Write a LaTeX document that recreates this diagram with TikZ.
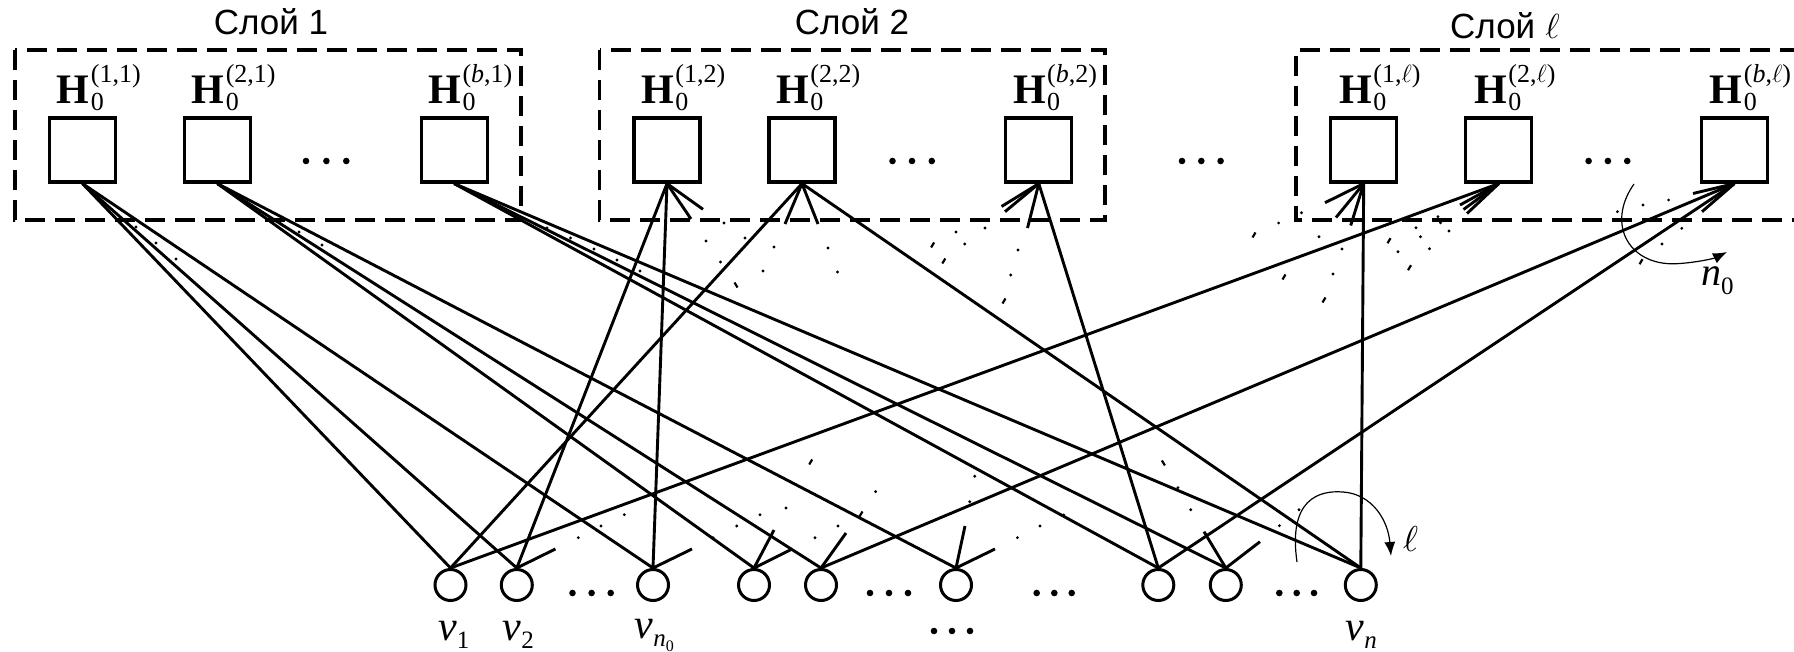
\documentclass[tikz,border=0pt]{standalone}
\usepackage{graphicx}
\usepackage{fontspec}
\setmainfont{Liberation Serif}
\newfontfamily\sansf{Liberation Sans}
\usetikzlibrary{arrows.meta}
\newcommand{\Hlab}[1]{{\fontsize{42}{42}\selectfont\textbf{H}}\kern1.5pt\makebox[0pt][l]{\raisebox{21pt}{\fontsize{26}{26}\selectfont(#1)}}\raisebox{-7pt}{\fontsize{26}{26}\selectfont 0}}
\newcommand{\vsub}[1]{{\fontsize{42}{42}\selectfont\textit{v}}\raisebox{-8pt}{\fontsize{25}{25}\selectfont #1}}
\newcommand{\bigell}[1]{\scalebox{#1}{$\ell$}}
\begin{document}
\begin{tikzpicture}[x=1pt,y=-1pt,
  boxn/.style={draw,line width=3.2pt,minimum width=66pt,minimum height=64pt,inner sep=0pt},
  varn/.style={draw,circle,line width=3pt,minimum size=31pt,inner sep=0pt},
  edge/.style={line width=2.9pt},
  stub/.style={line width=2.9pt},
  layer/.style={line width=3.3pt,dash pattern=on 20pt off 10pt},
  turn/.style={line width=1.2pt,-{Latex[length=14pt,width=11pt]}},
  hl/.style={anchor=base west,inner sep=0pt},
  ttl/.style={inner sep=0pt,font=\sansf\fontsize{35}{35}\selectfont},
]
\useasboundingbox (0,0) rectangle (1794,652);

% layers
\draw[layer] (15,50) rectangle (521,220);
\draw[layer] (599.5,50) rectangle (1105,220);
\draw[layer] (1800,50) -- (1296,50) -- (1296,220) -- (1800,220);

\node[ttl,anchor=base] (t1) at (271,35) {Слой 1};
\node[ttl,anchor=base] (t2) at (852,35) {Слой 2};
\node[ttl,anchor=base west] (t3) at (1450,38.5) {Слой\hspace{10pt}\bigell{1.4}};

% check boxes
\node[boxn] (b11) at (82.5,150) {};
\node[boxn] (b21) at (217.4,150) {};
\node[boxn] (bb1) at (454.2,150) {};
\node[boxn] (b12) at (667,150) {};
\node[boxn] (b22) at (802,150) {};
\node[boxn] (bb2) at (1038.8,150) {};
\node[boxn] (b1l) at (1363.7,150) {};
\node[boxn] (b2l) at (1498.8,150) {};
\node[boxn] (bbl) at (1734.4,150) {};

\node[hl] (h11) at (56.5,103.3) {\Hlab{1,1}};
\node[hl] (h21) at (191.4,103.3) {\Hlab{2,1}};
\node[hl] (hb1) at (428.2,103.3) {\Hlab{\textit{b},1}};
\node[hl] (h12) at (641,103.3) {\Hlab{1,2}};
\node[hl] (h22) at (776,103.3) {\Hlab{2,2}};
\node[hl] (hb2) at (1012.8,103.3) {\Hlab{\textit{b},2}};
\node[hl] (h1l) at (1339,103.3) {\Hlab{1,$\ell$}};
\node[hl] (h2l) at (1474,103.3) {\Hlab{2,$\ell$}};
\node[hl] (hbl) at (1709.5,103.3) {\Hlab{\textit{b},$\ell$}};

% variable nodes
\node[varn] (v1) at (450.5,585) {};
\node[varn] (v2) at (516.8,585) {};
\node[varn] (vn0) at (653,585) {};
\node[varn] (c4) at (754,585) {};
\node[varn] (c5) at (821,585) {};
\node[varn] (c6) at (956,585) {};
\node[varn] (c7) at (1158.3,585) {};
\node[varn] (c8) at (1225.8,585) {};
\node[varn] (vn) at (1360.8,585) {};

\node[hl] (lv1) at (438,640) {\vsub{1}};
\node[hl] (lv2) at (502.5,640) {\vsub{2}};
\node[hl] (lvn0) at (634.5,638) {\vsub{\textit{n}\raisebox{-5pt}{\fontsize{16}{16}\selectfont 0}}};
\node[hl] (lvn) at (1345.5,640) {\vsub{\textit{n}}};

% dots (ellipses)
\foreach \x/\y in {306/161,326.4/161,346.3/161, 892.5/161,912/161,931.8/161, 1182/161,1201.3/161,1220.6/161, 1588.6/161,1607.9/161,1627.2/161,
  572.5/593,591.6/593,610.7/593, 870/593,889/593,908/593, 1036.7/593,1054.3/593,1071.7/593, 1279.3/593,1296.7/593,1314/593,
  934/631,952/631,970/631}
  \fill (\x,\y) circle (3.3pt);

% edges
\draw[edge] (b11.south) -- (v1.north);
\draw[edge] (b11.south) -- (v2.north);
\draw[edge] (b11.south) -- (vn0.north);
\draw[edge] (b21.south) -- (c4.north);
\draw[edge] (b21.south) -- (c5.north);
\draw[edge] (b21.south) -- (c6.north);
\draw[edge] (bb1.south) -- (c7.north);
\draw[edge] (bb1.south) -- (c8.north);
\draw[edge] (bb1.south) -- (vn.north);
\draw[edge] (b12.south) -- (v2.north);
\draw[edge] (b12.south) -- (vn0.north);
\draw[edge] (b22.south) -- (v1.north);
\draw[edge] (b22.south) -- (vn.north);
\draw[edge] (bb2.south) -- (c7.north);
\draw[edge] (b1l.south) -- (vn.north);
\draw[edge] (b2l.south) -- (v1.north);
\draw[edge] (bbl.south) -- (c5.north);
\draw[edge] (bbl.south) -- (c7.north);

% stub ends
\coordinate (s1) at (703,209.3);
\coordinate (s2) at (691,219);
\coordinate (s3) at (785,224);
\coordinate (s4) at (818,224);
\coordinate (s5) at (1001.5,206.5);
\coordinate (s6) at (1005,211.7);
\coordinate (s7) at (1027.5,228);
\coordinate (s8) at (1325,202.7);
\coordinate (s9) at (1336,217.5);
\coordinate (s10) at (1350.7,225.5);
\coordinate (s11) at (1460,205);
\coordinate (s12) at (1463.5,209.5);
\coordinate (s13) at (1467,213.5);
\coordinate (s14) at (1693,193.5);
\coordinate (s15) at (1702,211.7);
\coordinate (t1a) at (555.4,549);
\coordinate (t2a) at (692,549);
\coordinate (t3a) at (774,530);
\coordinate (t3b) at (792,549);
\coordinate (t4a) at (846,533);
\coordinate (t5a) at (965,526);
\coordinate (t5b) at (995,549);
\coordinate (t6a) at (1204,531.7);
\coordinate (t6b) at (1260,541.7);

\draw[stub] (b12.south) -- (s1);
\draw[stub] (b12.south) -- (s2);
\draw[stub] (b22.south) -- (s3);
\draw[stub] (b22.south) -- (s4);
\draw[stub] (bb2.south) -- (s5);
\draw[stub] (bb2.south) -- (s6);
\draw[stub] (bb2.south) -- (s7);
\draw[stub] (b1l.south) -- (s8);
\draw[stub] (b1l.south) -- (s9);
\draw[stub] (b1l.south) -- (s10);
\draw[stub] (b2l.south) -- (s11);
\draw[stub] (b2l.south) -- (s12);
\draw[stub] (b2l.south) -- (s13);
\draw[stub] (bbl.south) -- (s14);
\draw[stub] (bbl.south) -- (s15);
\draw[stub] (v2.north) -- (t1a);
\draw[stub] (vn0.north) -- (t2a);
\draw[stub] (c4.north) -- (t3a);
\draw[stub] (c4.north) -- (t3b);
\draw[stub] (c5.north) -- (t4a);
\draw[stub] (c6.north) -- (t5a);
\draw[stub] (c6.north) -- (t5b);
\draw[stub] (c8.north) -- (t6a);
\draw[stub] (c8.north) -- (t6b);

% specks
\foreach \x/\y in {136/227,156/243,176/259,299/232,322/245,547/228,570.5/238,594/249,617/260,640/271,
  724/223,706/241,745/238,720.5/262,774/247,763/271,828/248,837.5/272,956/232,985/228,964.7/244,1018/250,1010.7/275,1278.6/223,
  1301.5/212.7,1319/236.7,1342/249,1333/274,1437.9/216.7,1440.5/222.7,1416/227.7,1420.5/236.7,1448.9/231,1398/251.7,1429.5/248.7,
  1617.4/211.7,1643/205,1668.6/200,1681.8/228.3,1662/244,
  624.3/514.7,601/526,578.3/537.7,760/514.7,786/508,736.7/526,713/537.7,
  838/526,815/537.7,875.6/491.7,974.7/476.3,969.7/501.7,1040/526,1017.4/537.7,1063.8/515,1177.9/487.7,1190.7/509.7,1299/509.7,1279.4/525.7,1100/220}
  \fill (\x,\y) circle (1.6pt);
\foreach \x/\y in {932.6/245,943.8/261,1004/301,1254/235,1284/277,810.7/462,1324/300,1389/240.7,1409.5/267.7,1641/261.7,861/514}
  \draw[line width=2.2pt] (\x-1.5,\y+2.5) -- (\x+1.5,\y-2.5);
\foreach \x/\y in {736/285,1163.4/463}
  \draw[line width=2.2pt] (\x-1.5,\y-2.5) -- (\x+1.5,\y+2.5);

% rotation arrows
\draw[turn] (1634,184) .. controls (1605,225) and (1630,268) .. (1680,263.5) .. controls (1700,262) and (1715,258) .. (1727,252);
\node[hl] (n0) at (1701,286) {{\fontsize{40}{40}\selectfont\textit{n}}\raisebox{-9pt}{\fontsize{25}{25}\selectfont 0}};
\draw[turn] (1297,562) .. controls (1288,500) and (1318,490) .. (1343,492) .. controls (1372,494) and (1388,520) .. (1391,556);
\node[hl] (ell) at (1403,551) {\bigell{3.6}};
\end{tikzpicture}
\end{document}
